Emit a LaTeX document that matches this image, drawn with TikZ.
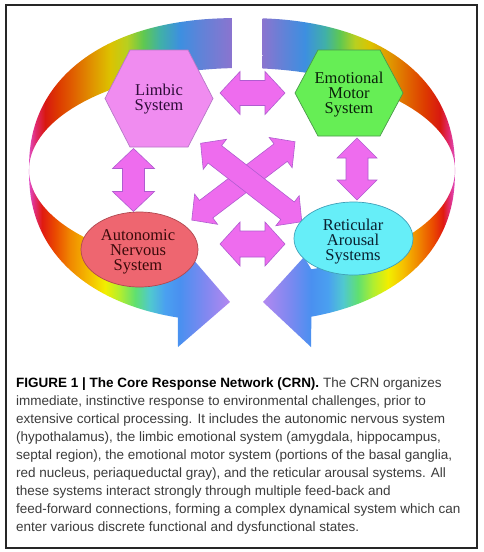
\documentclass[tikz,border=0pt]{standalone}
\usepackage{fontspec}
\setmainfont{Liberation Serif}
\newfontfamily\capfont{Liberation Sans}
\usetikzlibrary{shapes.geometric}

\definecolor{arrowfill}{HTML}{EE6CEE}
\definecolor{arrowdraw}{HTML}{B05CD0}
\definecolor{limbfill}{HTML}{F08CF0}
\definecolor{limbdraw}{HTML}{B878C8}
\definecolor{limbtext}{HTML}{2E0C38}
\definecolor{emsfill}{HTML}{66EE55}
\definecolor{emsdraw}{HTML}{4A9A4A}
\definecolor{emstext}{HTML}{0A200A}
\definecolor{ansfill}{HTML}{EE6670}
\definecolor{ansdraw}{HTML}{B04850}
\definecolor{anstext}{HTML}{3A0A0A}
\definecolor{rasfill}{HTML}{66EEF8}
\definecolor{rasdraw}{HTML}{40A0B8}
\definecolor{rastext}{HTML}{0A2030}
\definecolor{capgray}{HTML}{3C3C3C}

\definecolor{rbMag}{HTML}{E050C8}
\definecolor{rbPinkRed}{HTML}{E02868}
\definecolor{rbRed}{HTML}{D81810}
\definecolor{rbRedOr}{HTML}{DD3A00}
\definecolor{rbDkOr}{HTML}{E06000}
\definecolor{rbOr}{HTML}{E09600}
\definecolor{rbOchre}{HTML}{DCC200}
\definecolor{rbYelGr}{HTML}{B8D020}
\definecolor{rbGreen}{HTML}{60C850}
\definecolor{rbTeal}{HTML}{40B0A8}
\definecolor{rbBlue}{HTML}{3D8FE0}
\definecolor{rbBlueVi}{HTML}{5F83D8}
\definecolor{rbPurple}{HTML}{8B74CF}
\definecolor{lbMag}{HTML}{E050D0}
\definecolor{lbPinkRed}{HTML}{E03080}
\definecolor{lbRed}{HTML}{E01A10}
\definecolor{lbRedOr}{HTML}{EA4A00}
\definecolor{lbOr}{HTML}{F08800}
\definecolor{lbOrYel}{HTML}{F5C000}
\definecolor{lbYel}{HTML}{F2EE00}
\definecolor{lbYelGr}{HTML}{B0EE30}
\definecolor{lbGreen}{HTML}{60E070}
\definecolor{lbCyan}{HTML}{50C8D0}
\definecolor{lbBlueB}{HTML}{4AA0F0}
\definecolor{lbBlue}{HTML}{4A90F0}
\definecolor{lbVio}{HTML}{8088F0}
\definecolor{lbLav}{HTML}{B488F0}

\pgfdeclarehorizontalshading{ribUL}{100bp}{color(0bp)=(rbMag); color(25bp)=(rbMag); color(26.96bp)=(rbPinkRed); color(29.17bp)=(rbRed); color(32.35bp)=(rbRedOr); color(36.03bp)=(rbDkOr); color(40.93bp)=(rbOr); color(45.10bp)=(rbOchre); color(49.26bp)=(rbYelGr); color(53.19bp)=(rbGreen); color(57.35bp)=(rbTeal); color(62.25bp)=(rbBlue); color(67.16bp)=(rbBlueVi); color(75bp)=(rbPurple); color(100bp)=(rbPurple)}
\pgfdeclarehorizontalshading{ribUR}{100bp}{color(0bp)=(rbPurple); color(25bp)=(rbPurple); color(30.93bp)=(rbBlueVi); color(36.08bp)=(rbBlue); color(41.24bp)=(rbTeal); color(45.10bp)=(rbGreen); color(48.97bp)=(rbYelGr); color(52.84bp)=(rbOchre); color(57.99bp)=(rbOr); color(63.14bp)=(rbDkOr); color(67.01bp)=(rbRedOr); color(70.88bp)=(rbRed); color(72.94bp)=(rbPinkRed); color(75bp)=(rbMag); color(100bp)=(rbMag)}
\pgfdeclarehorizontalshading{ribLL}{100bp}{color(0bp)=(lbMag); color(25bp)=(lbMag); color(26.49bp)=(lbPinkRed); color(28.47bp)=(lbRed); color(31.68bp)=(lbRedOr); color(35.40bp)=(lbOr); color(40.35bp)=(lbOrYel); color(44.06bp)=(lbYel); color(47.77bp)=(lbYelGr); color(51.49bp)=(lbGreen); color(55.20bp)=(lbCyan); color(58.91bp)=(lbBlueB); color(62.62bp)=(lbBlue); color(68.81bp)=(lbVio); color(75bp)=(lbLav); color(100bp)=(lbLav)}
\pgfdeclarehorizontalshading{ribLR}{100bp}{color(0bp)=(lbLav); color(25bp)=(lbLav); color(31.70bp)=(lbVio); color(37.63bp)=(lbBlue); color(42.01bp)=(lbBlueB); color(45.88bp)=(lbCyan); color(49.74bp)=(lbGreen); color(53.61bp)=(lbYelGr); color(57.47bp)=(lbYel); color(61.34bp)=(lbOrYel); color(65.21bp)=(lbOr); color(69.07bp)=(lbRedOr); color(71.65bp)=(lbRed); color(73.45bp)=(lbPinkRed); color(75bp)=(lbMag); color(100bp)=(lbMag)}

\tikzset{
  blockarrow/.style={fill=arrowfill, draw=arrowdraw, line width=0.6pt, line join=miter},
  lbl/.style={align=center, inner sep=0pt, font=\fontsize{16.5}{15}\selectfont},
  hexL/.style={fill=limbfill, draw=limbdraw, line width=0.7pt},
  hexE/.style={fill=emsfill, draw=emsdraw, line width=0.7pt},
  declare function={
    sx(\t)=242+213*sign(cos(\t))*pow(abs(cos(\t)),0.88);
    sy(\t)=170-152*sign(sin(\t))*pow(abs(sin(\t)),0.88);
  },
}

% name, cx, cy, angle, half length, head length, head half width, shaft half width
\newcommand{\BlockArrow}[8]{%
  \coordinate (#1) at (#2,#3);
  \draw[blockarrow, shift={(#1)}, rotate=#4]
    ({-#5},0) -- ({-#5+#6},{#7}) -- ({-#5+#6},{#8}) -- ({#5-#6},{#8}) -- ({#5-#6},{#7})
    -- ({#5},0) -- ({#5-#6},{-#7}) -- ({#5-#6},{-#8}) -- ({-#5+#6},{-#8}) -- ({-#5+#6},{-#7}) -- cycle;
}

\begin{document}
\begin{tikzpicture}[x=1pt,y=-1pt]
\useasboundingbox (0,0) rectangle (483,552);
\fill[white] (0,0) rectangle (483,552);

% ---- rainbow ribbon ----
\begin{scope}
  \clip plot[domain=91.77:179.9,samples=90] ({sx(\x)},{sy(\x)})
     -- plot[domain=180:92.7,samples=80] ({242+213*cos(\x)},{170-102*sin(\x)}) -- cycle;
  \shade[shading=ribUL] (28,0) rectangle (232,360);
\end{scope}
\begin{scope}
  \clip plot[domain=0.1:86,samples=90] ({sx(\x)},{sy(\x)})
     -- plot[domain=84.5:0,samples=80] ({242+213*cos(\x)},{170-102*sin(\x)}) -- cycle;
  \shade[shading=ribUR] (262,0) rectangle (456,360);
\end{scope}
\begin{scope}
  \clip plot[domain=180.1:255.2,samples=90] ({sx(\x)},{sy(\x)})
     -- (178,347) -- (230,302) -- (192,258)
     -- plot[domain=252.5:180,samples=80] ({242+213*cos(\x)},{170-100*sin(\x)}) -- cycle;
  \shade[shading=ribLL] (28,0) rectangle (230,360);
\end{scope}
\begin{scope}
  \clip plot[domain=359.9:286.24,samples=90] ({sx(\x)},{sy(\x)})
     -- (311,347) -- (263,302) -- (304,257)
     -- plot[domain=289:360,samples=80] ({242+213*cos(\x)},{170-105*sin(\x)}) -- cycle;
  \shade[shading=ribLR] (262,0) rectangle (456,360);
\end{scope}

% ---- block arrows ----
\BlockArrow{arTop}{252.5}{93}{0}{32.5}{20}{21.5}{12.5}
\BlockArrow{arBot}{252.5}{244}{0}{32.5}{20}{22}{13}
\BlockArrow{arLeft}{133.5}{180}{90}{31.5}{20}{21}{11}
\BlockArrow{arRight}{357}{169}{90}{31}{20}{20}{11}
\BlockArrow{arDiagA}{243.4}{180.9}{37.2}{64.8}{18}{19}{11}
\BlockArrow{arDiagB}{251.2}{182.5}{-37.8}{64}{18}{19}{11}

% ---- hexagons ----
\coordinate (limbc) at (159,98.5);
\draw[hexL, shift={(limbc)}] (-54,0) -- (-29,-48.5) -- (29,-48.5) -- (54,0) -- (29,48.5) -- (-29,48.5) -- cycle;
\node[lbl, text=limbtext] (limbic) at (159,99) {Limbic\\System};

\coordinate (emsc) at (349,93);
\draw[hexE, shift={(emsc)}] (-54,0) -- (-31,-43) -- (31,-43) -- (54,0) -- (31,43) -- (-31,43) -- cycle;
\node[lbl, text=emstext] (ems) at (349,95) {Emotional\\Motor\\System};

% ---- ellipses ----
\node[ellipse, fill=ansfill, draw=ansdraw, line width=0.7pt, minimum width=117pt, minimum height=75pt, inner sep=0pt] (ansshape) at (139.5,249.5) {};
\node[lbl, text=anstext] (ans) at (138,251.5) {Autonomic\\Nervous\\System};
\node[ellipse, fill=rasfill, draw=rasdraw, line width=0.7pt, minimum width=119pt, minimum height=73pt, inner sep=0pt] (rasshape) at (353.5,238.5) {};
\node[lbl, text=rastext] (ras) at (353,241.5) {Reticular\\Arousal\\Systems};

% ---- caption ----
\node[anchor=north west, align=left, inner sep=0pt, text=capgray,
      font=\capfont\fontsize{13.5}{18}\selectfont] (caption) at (16,378)
 {\textcolor{black}{\bfseries FIGURE 1 | The Core Response Network (CRN).} The CRN organizes\\
  immediate, instinctive response to environmental challenges, prior to\\
  extensive cortical processing. It includes the autonomic nervous system\\
  (hypothalamus), the limbic emotional system (amygdala, hippocampus,\\
  septal region), the emotional motor system (portions of the basal ganglia,\\
  red nucleus, periaqueductal gray), and the reticular arousal systems. All\\
  these systems interact strongly through multiple feed-back and\\
  feed-forward connections, forming a complex dynamical system which can\\
  enter various discrete functional and dysfunctional states.};

% ---- frame ----
\draw[line width=1.1pt, black!85] (6,5) rectangle (477,548);
\end{tikzpicture}
\end{document}
